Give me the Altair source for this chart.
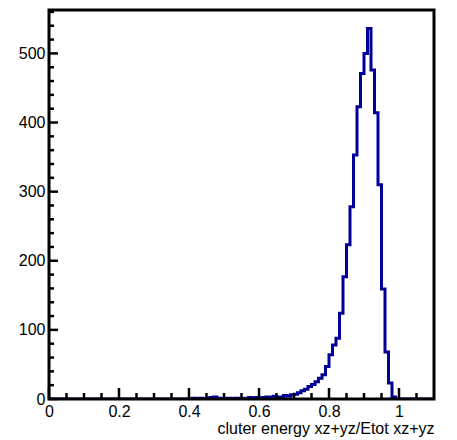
import altair as alt
import pandas as pd

# ---- data -------------------------------------------------------------------
bin_width = 0.01
x_min, x_max = 0.0, 1.1
first_bin = 0.40
counts = [
    0, 1, 0, 1, 0, 1, 2, 3, 1, 0,          # 0.40 - 0.49
    1, 1, 0, 1, 1, 0, 1, 2, 1, 2,          # 0.50 - 0.59
    1, 2, 3, 2, 4, 3, 3, 5, 4, 6,          # 0.60 - 0.69
    7, 9, 12, 14, 18, 21, 25, 30, 35, 47,  # 0.70 - 0.79
    64, 78, 88, 124, 177, 223, 278, 353, 423, 471,  # 0.80 - 0.89
    500, 536, 476, 414, 310, 159, 68, 23, 3, 0,     # 0.90 - 0.99
]
y_max = 562.8

x_major = [0, 0.2, 0.4, 0.6, 0.8, 1.0]
x_minor = [0.05, 0.1, 0.15, 0.25, 0.3, 0.35, 0.45, 0.5, 0.55, 0.65, 0.7, 0.75,
           0.85, 0.9, 0.95, 1.05]
y_major = [0, 100, 200, 300, 400, 500]
y_minor = [20, 40, 60, 80, 120, 140, 160, 180, 220, 240, 260, 280, 320, 340,
           360, 380, 420, 440, 460, 480, 520, 540, 560]

x_title = "cluter energy xz+yz/Etot xz+yz"

# ---- build the step table -----------------------------------------------------
n_total = int(round((x_max - x_min) / bin_width))
n_lead = int(round((first_bin - x_min) / bin_width))
all_counts = [0] * n_lead + counts
all_counts += [0] * (n_total - len(all_counts))
edges = [round(x_min + i * bin_width, 4) for i in range(n_total)] + [x_max]
hist = pd.DataFrame({"x": edges, "n": all_counts + [all_counts[-1]]})

W, H = 385, 389
FONT = "Liberation Sans"
FS = 16

xs = alt.Scale(domain=[x_min, x_max], nice=False, zero=False)
ys = alt.Scale(domain=[0, y_max], nice=False)

line = alt.Chart(hist).mark_line(
    interpolate="step-after", color="#000099", strokeWidth=3,
    strokeJoin="miter", strokeCap="square", clip=True
).encode(
    x=alt.X("x:Q", scale=xs, axis=alt.Axis(
        values=x_major, format="~g", ticks=False, grid=False, domain=False,
        labelFlush=False,
        labelFont=FONT, labelFontSize=FS, labelColor="black", labelPadding=4,
        title=x_title, titleFont=FONT, titleFontSize=FS, titleFontWeight="normal",
        titleColor="black", titleAnchor="end", titleAlign="right", titlePadding=1,
        zindex=1)),
    y=alt.Y("n:Q", scale=ys, axis=alt.Axis(
        values=y_major, ticks=False, grid=False, domain=False,
        labelFlush=False, labelFont=FONT, labelFontSize=FS,
        labelColor="black", labelPadding=4, title=None, zindex=1)),
)

xmaj = alt.Chart(pd.DataFrame({"v": x_major})).mark_rule(color="black", strokeWidth=2.5).encode(
    x=alt.X("v:Q", scale=xs), y=alt.value(H), y2=alt.value(H - 11))
xmin_ = alt.Chart(pd.DataFrame({"v": x_minor})).mark_rule(color="black", strokeWidth=2.5).encode(
    x=alt.X("v:Q", scale=xs), y=alt.value(H), y2=alt.value(H - 6))
ymaj = alt.Chart(pd.DataFrame({"c": y_major})).mark_rule(color="black", strokeWidth=2.5).encode(
    y=alt.Y("c:Q", scale=ys), x=alt.value(0), x2=alt.value(9))
ymin_ = alt.Chart(pd.DataFrame({"c": y_minor})).mark_rule(color="black", strokeWidth=2.5).encode(
    y=alt.Y("c:Q", scale=ys), x=alt.value(0), x2=alt.value(5))

# plot frame drawn on top of the histogram
frame = alt.Chart(pd.DataFrame({"k": [0]})).mark_rect(
    fill=None, fillOpacity=0, stroke="black", strokeWidth=3
).encode(x=alt.value(0), x2=alt.value(W), y=alt.value(0), y2=alt.value(H))

chart = alt.layer(line, xmaj, xmin_, ymaj, ymin_, frame).properties(
    width=W, height=H,
    background="white",
    autosize=alt.AutoSizeParams(type="none"),
    padding={"left": 41, "top": 2, "right": 12, "bottom": 40},
).configure_view(stroke=None)

chart.save("out.html", embed_options={"renderer": "svg", "actions": False})
